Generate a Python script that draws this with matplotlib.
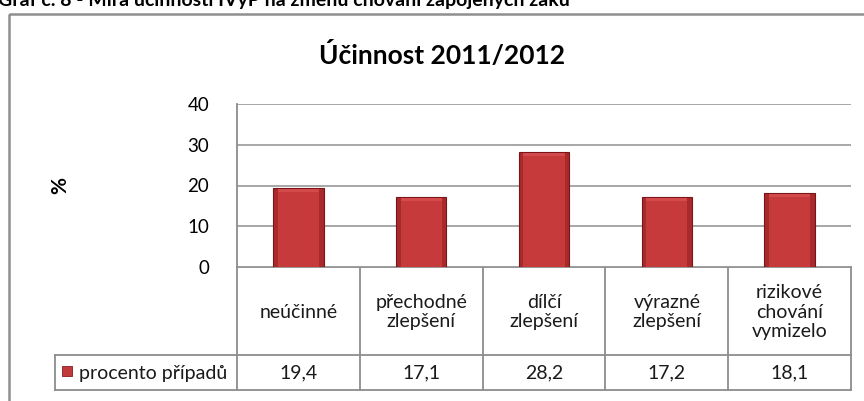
import matplotlib
matplotlib.use("Agg")
import matplotlib.pyplot as plt
from matplotlib.patches import Rectangle
from matplotlib.lines import Line2D

plt.rcParams['font.family'] = ['Lato', 'DejaVu Sans']

categories = ["neúčinné", "přechodné\nzlepšení", "dílčí\nzlepšení", "výrazné\nzlepšení", "rizikové\nchování\nvymizelo"]
values = [19.4, 17.1, 28.2, 17.2, 18.1]
value_labels = ["19,4", "17,1", "28,2", "17,2", "18,1"]
series_name = "procento případů"
yticks = [0, 10, 20, 30, 40]
title = "Účinnost 2011/2012"
caption = "Graf č. 8 - Míra účinnosti IVýP na změnu chování zapojených žáků"
ylabel = "%"

W, H = 864, 401
fig = plt.figure(figsize=(W / 100, H / 100), dpi=100)

ov = fig.add_axes([0, 0, 1, 1])
ov.set_xlim(0, W)
ov.set_ylim(H, 0)
ov.axis('off')

L, R, T, B = 237, 851, 104, 267
ax = fig.add_axes([L / W, (H - B) / H, (R - L) / W, (B - T) / H])
ax.set_xlim(-0.5, len(values) - 0.5)
ax.set_ylim(0, 40)
ax.set_yticks(yticks)
ax.set_yticklabels([str(t) for t in yticks], fontsize=13.5)
ax.tick_params(axis='y', length=0, pad=20, colors='black')
ax.set_xticks([])
for s in ['top', 'right', 'bottom']:
    ax.spines[s].set_visible(False)
ax.spines['left'].set_color('#8c8c8c')
ax.spines['left'].set_linewidth(1.3)
ax.yaxis.grid(True, color='#a0a0a0', linewidth=1.3)
ax.set_axisbelow(True)
ax.patch.set_alpha(0)

x = list(range(len(values)))
bw = 0.41
ax.bar(x, values, width=bw, color='#a82a2c', edgecolor='#7a1416', linewidth=0.8, zorder=3)
for xi, v in zip(x, values):
    ax.add_patch(Rectangle((xi - bw / 2 * 0.82, 0), bw * 0.82, v - 1.0,
                           facecolor='#c63a3c', edgecolor='none', zorder=4))
    ax.add_patch(Rectangle((xi - bw / 2 * 0.82, v - 1.0), bw * 0.82, 0.8,
                           facecolor='#d24a4c', edgecolor='none', zorder=4))

ov.text(442, 55, title, ha='center', va='center', fontsize=19, fontweight='bold')
ov.text(60, 185, ylabel, ha='center', va='center', fontsize=15, fontweight='bold', rotation=90)
ov.text(-2, 6, caption, ha='left', va='baseline', fontsize=14, fontweight='bold')

ov.add_patch(Rectangle((8.5, 14), 870, 420, facecolor='none', edgecolor='#8f8f8f', linewidth=1.8))

def xpix(xd):
    disp = ax.transData.transform((xd, 0))
    return ov.transData.inverted().transform(disp)[0]

col_edges = [xpix(i - 0.5) for i in range(len(values) + 1)]
centers = [xpix(i) for i in x]
row_top, row_mid, row_bot = 267, 355, 389.5
leg_left = 54.5
lc = '#8c8c8c'
lw = 1.3
ov.add_line(Line2D([col_edges[0], col_edges[-1]], [row_top, row_top], color=lc, lw=lw))
ov.add_line(Line2D([leg_left, col_edges[-1]], [row_mid, row_mid], color=lc, lw=lw))
ov.add_line(Line2D([leg_left, col_edges[-1]], [row_bot, row_bot], color=lc, lw=lw))
ov.add_line(Line2D([leg_left, leg_left], [row_mid, row_bot], color=lc, lw=lw))
ov.add_line(Line2D([col_edges[0], col_edges[0]], [row_top, row_bot], color=lc, lw=lw))
for xe in col_edges[1:]:
    ov.add_line(Line2D([xe, xe], [row_top, row_bot], color=lc, lw=lw))

for cx, cat, vl in zip(centers, categories, value_labels):
    ov.text(cx, (row_top + row_mid) / 2 + 1, cat, ha='center', va='center', fontsize=14,
            linespacing=1.2, color='#1a1a1a')
    ov.text(cx, (row_mid + row_bot) / 2 + 1, vl, ha='center', va='center', fontsize=14, color='#1a1a1a')

ov.add_patch(Rectangle((62, 366), 9.5, 9.5, facecolor='#c0393b', edgecolor='#8a1c1e', lw=0.6))
ov.text(79, (row_mid + row_bot) / 2 + 1, series_name, ha='left', va='center', fontsize=14, color='#1a1a1a')

fig.savefig('out.png', dpi=100)
